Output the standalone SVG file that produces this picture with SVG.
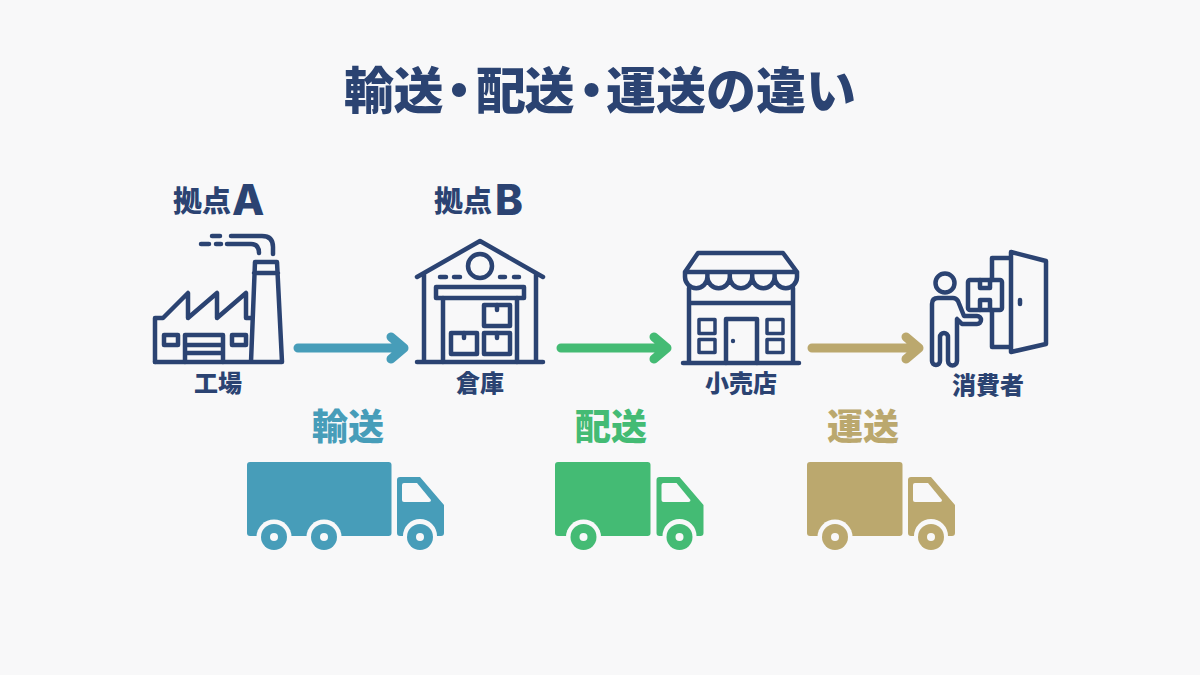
<svg xmlns="http://www.w3.org/2000/svg" width="1200" height="675" viewBox="0 0 1200 675">
<style>
text{font-family:"Noto Sans CJK JP","Noto Sans CJK SC",sans-serif;font-weight:900;fill:#2b4372;text-anchor:middle}
.title{font-size:50px;text-anchor:start}
.cap{font-size:24px}
.base{font-size:29px;text-anchor:start}
.latin{font-family:"Inter","Liberation Sans",sans-serif;font-size:42px;font-weight:800;text-anchor:start}
.kind{font-size:36px}
.ln{fill:none;stroke:#2b4372;stroke-width:4.500;stroke-linecap:round;stroke-linejoin:round}
.arrow{fill:none;stroke-width:9;stroke-linecap:round;stroke-linejoin:round}
</style>
<defs>
<g id="cab">
<path d="M400 477H420L444 505V533Q444 536 441 536H437A17 17 0 0 0 403 536H400Q397 536 397 533V480Q397 477 400 477Z" fill="currentColor"/>
<path d="M404 483H417L431 500Q431 502 429 502H404Q402 502 402 500V485Q402 483 404 483Z" fill="#f8f8f9"/>
<circle cx="420" cy="537" r="13" fill="currentColor"/>
<circle cx="420" cy="537" r="4" fill="#f8f8f9"/>
</g>
<g id="wheel">
<circle r="17.500" fill="#f8f8f9"/>
<circle r="13" fill="currentColor"/>
<circle r="4" fill="#f8f8f9"/>
</g>
</defs>
<rect width="1200" height="675" fill="#f8f8f9"/>
<text id="title" class="title" y="109" x="344 393.500 434 476 524.500 566.500 606 656 706 756 806">輸送・配送・運送の違い</text>

<g id="node-factory">
<text class="base" x="173" y="212">拠点</text><text class="latin" x="232" y="215">A</text>
<path class="ln" d="M155 362V318H163L188 293V318L217 293V318L246 293V318H252"/>
<path class="ln" d="M155 362H282L277 262H255L251 362M254 273H278"/>
<rect class="ln" x="164" y="335" width="14" height="10"/>
<rect class="ln" x="232" y="335" width="14" height="10"/>
<path class="ln" d="M185 362V335H223V362M185 345H223M185 353H223"/>
<path class="ln" d="M201 244H209M216 244H221M227 244H251Q259 244 259 253M212 236H220M231 236H262Q273 236 273 247V254"/>
<text class="cap" x="218" y="392">工場</text>
</g>

<g id="node-warehouse">
<text class="base" x="434" y="212">拠点</text><text class="latin" x="495" y="215">B</text>
<path class="ln" d="M417 277L480 241L543 277M424 273V362M536 273V362M417 362H543"/>
<circle class="ln" cx="480" cy="266" r="12"/>
<path class="ln" d="M440 277H446M454 277H460M500 277H505M514 277H519"/>
<rect class="ln" x="436" y="287" width="88" height="11"/>
<path class="ln" d="M443 298V362M517 298V362"/>
<rect class="ln" x="484" y="305" width="26" height="21"/>
<rect class="ln" x="484" y="333" width="26" height="21"/>
<rect class="ln" x="451" y="333" width="26" height="21"/>
<path class="ln" d="M497 305V310M497 333V338M464 333V338"/>
<text class="cap" x="480" y="392">倉庫</text>
</g>

<g id="node-store">
<path class="ln" d="M698 253H783L797 272H685ZM685 272V277A11 11 0 0 0 707.400 277A11 11 0 0 0 729.800 277A11 11 0 0 0 752.200 277A11 11 0 0 0 774.600 277A11 11 0 0 0 797 277V272M707.400 272V277M729.800 272V277M752.200 272V277M774.600 272V277"/>
<path class="ln" d="M689 288V363M793 288V363M689 303H793M683 363H799"/>
<path class="ln" d="M726 363V319H757V363"/>
<circle cx="733" cy="341" r="2.200" fill="#2b4372"/>
<g style="stroke-width:3.500">
<rect class="ln" style="stroke-width:3.500" x="699" y="319.500" width="16" height="14"/>
<rect class="ln" style="stroke-width:3.500" x="699" y="339.500" width="16" height="13"/>
<rect class="ln" style="stroke-width:3.500" x="767" y="319.500" width="16" height="14"/>
<rect class="ln" style="stroke-width:3.500" x="767" y="339.500" width="16" height="13"/>
</g>
<text class="cap" x="741" y="392">小売店</text>
</g>

<g id="node-consumer">
<circle class="ln" cx="945" cy="283" r="9.500"/>
<path class="ln" d="M938 298H953Q956 298 958 301L964 316H977A4 4 0 0 1 977 324H962L957 319V361A4.500 4.500 0 0 1 948 361V337A4 4 0 0 0 940 337V361A4 4 0 0 1 932 361V304Q932 298 938 298Z"/>
<rect class="ln" x="968" y="280" width="34" height="30" rx="2"/>
<path class="ln" d="M980 280V288H990V280M980 310V300H990V310"/>
<path class="ln" d="M1010 258H992V280M992 310V347H1010"/>
<path class="ln" d="M1011 252L1046 261V344L1011 352Z"/>
<path class="ln" d="M1020 300V304"/>
<text class="cap" x="988" y="394">消費者</text>
</g>

<g id="connectors">
<path class="arrow" stroke="#479db9" d="M298 348H402M391 337L404 348L391 359"/>
<path class="arrow" stroke="#44bb74" d="M561 348H665M654 337L667 348L654 359"/>
<path class="arrow" stroke="#bba86e" d="M812 348H917M906 337L919 348L906 359"/>
</g>

<g id="node-yuso" color="#479db9">
<text class="kind" x="348" y="440" style="fill:#479db9">輸送</text>
<rect x="247" y="462" width="144.500" height="74" rx="3" fill="currentColor"/>
<use href="#wheel" x="274" y="537"/>
<use href="#wheel" x="324" y="537"/>
<use href="#cab"/>
</g>
<g id="node-haiso" color="#44bb74">
<text class="kind" x="611" y="440" style="fill:#44bb74">配送</text>
<rect x="555" y="462" width="95.500" height="74" rx="3" fill="currentColor"/>
<use href="#wheel" x="583.500" y="537"/>
<use href="#cab" x="259.500"/>
</g>
<g id="node-unso" color="#bba86e">
<text class="kind" x="863" y="440" style="fill:#bba86e">運送</text>
<rect x="807" y="462" width="95.500" height="74" rx="3" fill="currentColor"/>
<use href="#wheel" x="835" y="537"/>
<use href="#cab" x="511"/>
</g>
</svg>
